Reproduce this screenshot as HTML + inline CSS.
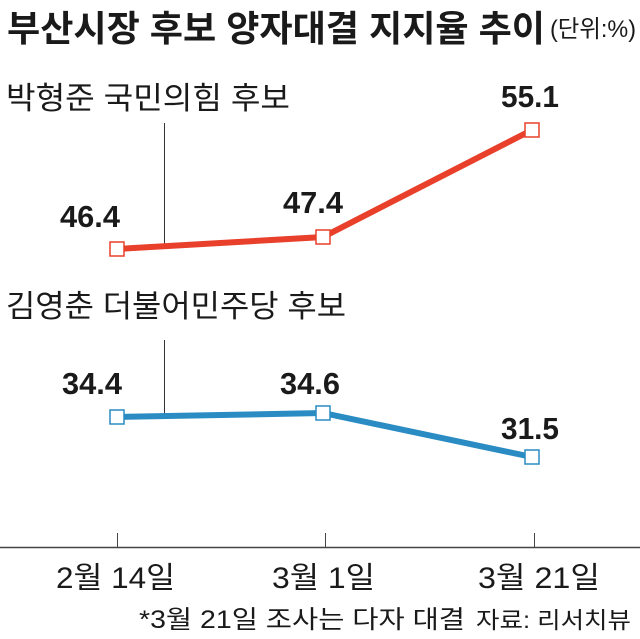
<!DOCTYPE html>
<html><head><meta charset="utf-8"><style>
html,body{margin:0;padding:0;background:#fff;}
svg{display:block;}
text{font-family:"Liberation Sans Narrow","Liberation Sans","Noto Sans CJK KR",sans-serif;fill:#1a1a1a;}
.k{font-family:"Liberation Sans","Noto Sans CJK KR",sans-serif;}
.v{font-weight:bold;font-size:31px;}
</style></head><body>
<svg width="640" height="639" viewBox="0 0 640 639" xmlns="http://www.w3.org/2000/svg">
<text class="k" x="7" y="41" font-size="36" font-weight="bold" textLength="538" lengthAdjust="spacingAndGlyphs">부산시장 후보 양자대결 지지율 추이</text>
<text class="k" x="550" y="37" font-size="24" textLength="86" lengthAdjust="spacingAndGlyphs">(단위:%)</text>
<text class="k" x="6" y="109" font-size="31" textLength="284" lengthAdjust="spacingAndGlyphs">박형준 국민의힘 후보</text>
<text class="k" x="6" y="317" font-size="31" textLength="340" lengthAdjust="spacingAndGlyphs">김영춘 더불어민주당 후보</text>
<line x1="164.5" y1="123" x2="164.5" y2="245" stroke="#333" stroke-width="1"/>
<line x1="164.5" y1="340" x2="164.5" y2="415" stroke="#333" stroke-width="1"/>
<polyline points="117,249 323,237 532,130" fill="none" stroke="#e8402a" stroke-width="6"/>
<polyline points="117,417 323,413 532,457" fill="none" stroke="#2a8cc3" stroke-width="6"/>
<g fill="#fff" stroke-width="1.5">
<rect x="110" y="242" width="14" height="14" stroke="#e8402a"/>
<rect x="316" y="230" width="14" height="14" stroke="#e8402a"/>
<rect x="525" y="123" width="14" height="14" stroke="#e8402a"/>
<rect x="110" y="410" width="14" height="14" stroke="#2a8cc3"/>
<rect x="316" y="406" width="14" height="14" stroke="#2a8cc3"/>
<rect x="525" y="450" width="14" height="14" stroke="#2a8cc3"/>
</g>
<text class="v" x="90" y="227" text-anchor="middle" textLength="60" lengthAdjust="spacingAndGlyphs">46.4</text>
<text class="v" x="313" y="213" text-anchor="middle" textLength="60" lengthAdjust="spacingAndGlyphs">47.4</text>
<text class="v" x="530" y="107" text-anchor="middle" textLength="58" lengthAdjust="spacingAndGlyphs">55.1</text>
<text class="v" x="92" y="394" text-anchor="middle" textLength="60" lengthAdjust="spacingAndGlyphs">34.4</text>
<text class="v" x="310" y="394" text-anchor="middle" textLength="60" lengthAdjust="spacingAndGlyphs">34.6</text>
<text class="v" x="530" y="439" text-anchor="middle" textLength="58" lengthAdjust="spacingAndGlyphs">31.5</text>
<line x1="0" y1="547.5" x2="640" y2="547.5" stroke="#444" stroke-width="1.5"/>
<line x1="117.5" y1="533" x2="117.5" y2="548" stroke="#444" stroke-width="1"/>
<line x1="325.5" y1="533" x2="325.5" y2="548" stroke="#444" stroke-width="1"/>
<line x1="534.5" y1="533" x2="534.5" y2="548" stroke="#444" stroke-width="1"/>
<text class="k" x="56" y="588" font-size="30" textLength="119" lengthAdjust="spacingAndGlyphs">2월 14일</text>
<text class="k" x="272" y="588" font-size="30" textLength="103" lengthAdjust="spacingAndGlyphs">3월 1일</text>
<text class="k" x="478" y="588" font-size="30" textLength="122" lengthAdjust="spacingAndGlyphs">3월 21일</text>
<text class="k" x="139" y="628" font-size="25" textLength="326" lengthAdjust="spacingAndGlyphs">*3월 21일 조사는 다자 대결</text>
<text class="k" x="476" y="628" font-size="23" textLength="155" lengthAdjust="spacingAndGlyphs">자료: 리서치뷰</text>
</svg>
</body></html>
